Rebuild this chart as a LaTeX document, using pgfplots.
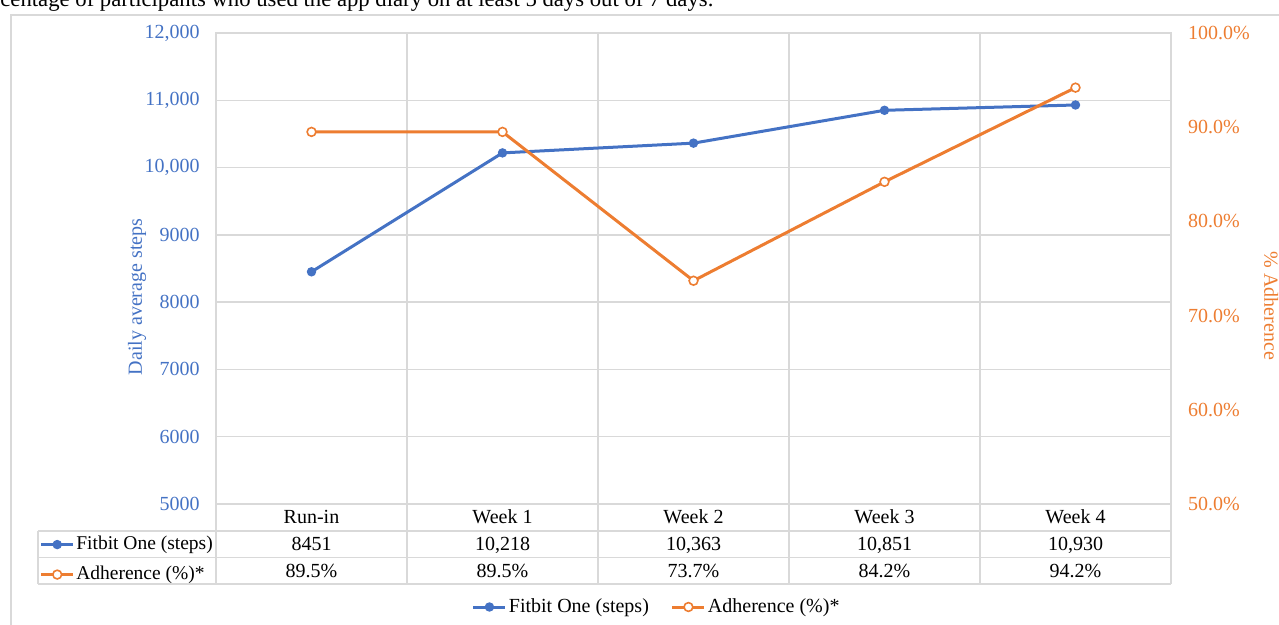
\documentclass[border=0pt]{standalone}
\usepackage{fontspec}
\setmainfont{Liberation Serif}
\usepackage{pgfplots}
\pgfplotsset{compat=1.18}
\definecolor{xblue}{HTML}{4472C4}
\definecolor{xorange}{HTML}{ED7D31}
\definecolor{xgrid}{HTML}{D9D9D9}
\pgfplotsset{
  common/.style={
    scale only axis, width=477.5pt, height=235.5pt,
    at={(108pt,60.5pt)}, anchor=south west,
    xmin=-0.5, xmax=4.5, clip=false,
    major tick length=0pt, minor tick length=0pt,
    scaled y ticks=false,
    legend image code/.code={\draw[mark repeat=2,mark phase=2] plot coordinates {(0pt,0pt)(8pt,0pt)(16pt,0pt)};},
  },
  bluestyle/.style={xblue, line width=1.5pt, mark=*, mark size=2.1pt, mark options={fill=xblue, line width=0.5pt}},
  orangestyle/.style={xorange, line width=1.5pt, mark=*, mark size=2.2pt, mark options={fill=white, line width=0.8pt}},
}
\begin{document}
\fontsize{10}{12}\selectfont
\begin{tikzpicture}
% outer chart frame
\draw[xgrid, line width=0.6pt] (5.5pt,305pt) rectangle (660pt,-20pt);
% caption fragment (cut off at top, as in the source figure)
\node[anchor=base west, inner sep=0pt, font=\fontsize{11.35}{13}\selectfont] at (0pt,309pt)
  {centage of participants who used the app diary on at least 5 days out of 7 days.};

\begin{axis}[common,
  ymin=5000, ymax=12000,
  ytick={5000,6000,...,12000},
  yticklabels={5000,6000,7000,8000,9000,{10,000},{11,000},{12,000}},
  yticklabel style={text=xblue, xshift=-4.7pt},
  ymajorgrids, grid style={xgrid, line width=0.75pt},
  xtick={0,...,4},
  xticklabels={Run-in,Week 1,Week 2,Week 3,Week 4},
  xticklabel style={anchor=base, yshift=-10pt},
  minor xtick={0.5,1.5,2.5,3.5}, xminorgrids,
  minor grid style={xgrid, line width=0.75pt},
  axis line style={xgrid, line width=0.75pt},
  ylabel={Daily average steps},
  ylabel style={at={(-0.0827,0.4395)}, anchor=center, text=xblue},
  legend style={at={(-0.1850,-0.1180)}, anchor=west, draw=none, fill=none,
    inner sep=0pt, row sep=3.4pt,
    nodes={inner sep=0.8pt, text height=7.5pt, text depth=2.5pt, font=\fontsize{9.75}{12}\selectfont}},
  legend cell align=left,
]
\addplot[bluestyle] coordinates {(0,8451) (1,10218) (2,10363) (3,10851) (4,10930)};
\addlegendentry{Fitbit One (steps)}
\addlegendimage{orangestyle}
\addlegendentry{Adherence (\%)*}
\end{axis}

\begin{axis}[common,
  ymin=50, ymax=100,
  axis x line=none, axis y line*=right,
  axis line style={draw=none},
  ytick={50,60,...,100},
  yticklabels={50.0\%,60.0\%,70.0\%,80.0\%,90.0\%,100.0\%},
  yticklabel style={text=xorange, xshift=5pt},
  ylabel={\% Adherence},
  ylabel style={at={(1.1050,0.4204)}, anchor=center, rotate=180, text=xorange},
  legend style={at={(0.4615,-0.2187)}, anchor=center, draw=none, fill=none,
    inner sep=0pt, /tikz/every even column/.append style={column sep=10pt},
    nodes={inner sep=1pt}},
  legend columns=2,
]
\addlegendimage{bluestyle}
\addlegendentry{Fitbit One (steps)}
\addplot[orangestyle] coordinates {(0,89.5) (1,89.5) (2,73.7) (3,84.2) (4,94.2)};
\addlegendentry{Adherence (\%)*}
\end{axis}

% data table grid
\draw[xgrid, line width=0.75pt]
  (19pt,47pt) -- (585.5pt,47pt)
  (19pt,33.75pt) -- (585.5pt,33.75pt)
  (19pt,20.5pt) -- (585.5pt,20.5pt)
  (19pt,47pt) -- (19pt,20.5pt);
\foreach \x in {108,203.5,299,394.5,490,585.5}
  \draw[xgrid, line width=0.75pt] (\x pt,60.5pt) -- (\x pt,20.5pt);
% table values
\foreach \x/\a/\b in {155.75/8451/89.5\%, 251.25/{10,218}/89.5\%, 346.75/{10,363}/73.7\%, 442.25/{10,851}/84.2\%, 537.75/{10,930}/94.2\%}{
  \node[anchor=base, inner sep=0pt] at (\x pt,37pt) {\a};
  \node[anchor=base, inner sep=0pt] at (\x pt,23.6pt) {\b};
}
\pgfresetboundingbox
\path[use as bounding box] (0pt,0pt) rectangle (639.5pt,312.5pt);
\end{tikzpicture}
\end{document}
